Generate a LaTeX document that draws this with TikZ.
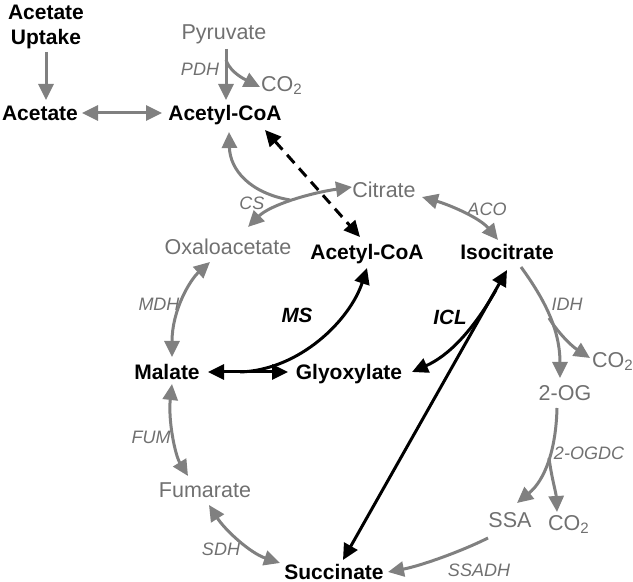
\documentclass[tikz,border=0pt]{standalone}
\usepackage{fontspec}
\setmainfont{Liberation Sans}
\usetikzlibrary{arrows.meta}
\definecolor{arrgray}{RGB}{128,128,128}
\definecolor{txtgray}{RGB}{112,112,112}
\begin{document}
\begin{tikzpicture}[x=0.5pt,y=-0.5pt,
 lab/.style={inner sep=0pt, text height=0.72em, text depth=0pt},
 met/.style={lab, font=\fontsize{10.5}{12.6}\selectfont\bfseries},
 gmet/.style={lab, text=txtgray, font=\fontsize{10.75}{13}\selectfont},
 enz/.style={lab, text=txtgray, font=\fontsize{9}{10}\selectfont\itshape},
 benz/.style={lab, font=\fontsize{10.3}{12}\selectfont\bfseries\itshape},
 Tr/.tip={Triangle[length=8pt,width=7.5pt]},
 garr/.style={draw=arrgray, line width=1.5pt},
 barr/.style={draw=black, line width=1.5pt},
]
\useasboundingbox (0,0) rectangle (633,582);

% metabolites
\node[inner sep=0pt, align=center, font=\fontsize{10.5}{12.6}\selectfont\bfseries] (uptake) at (46,27) {Acetate\\Uptake};
\node[met] (acetate) at (40,113) {Acetate};
\node[met] (acoa1) at (225,113) {Acetyl-CoA};
\node[gmet] (pyr) at (224,32) {Pyruvate};
\node[gmet] (co2a) at (282,84) {CO\textsubscript{2}};
\node[gmet] (citrate) at (384,190) {Citrate};
\node[gmet] (oaa) at (228,247) {Oxaloacetate};
\node[met] (acoa2) at (367,252) {Acetyl-CoA};
\node[met] (iso) at (507,252) {Isocitrate};
\node[gmet] (co2b) at (613,360) {CO\textsubscript{2}};
\node[gmet] (og) at (565,393) {2-OG};
\node[gmet] (ssa) at (510,520) {SSA};
\node[gmet] (co2c) at (569,523) {CO\textsubscript{2}};
\node[met] (succ) at (334,572) {Succinate};
\node[gmet] (fum) at (205,490) {Fumarate};
\node[met] (malate) at (167,372) {Malate};
\node[met] (glyox) at (349,372) {Glyoxylate};

% enzymes
\node[enz] (pdh) at (200,68) {PDH};
\node[enz] (cs) at (252,202) {CS};
\node[enz] (aco) at (487,208) {ACO};
\node[enz] (idh) at (567,303) {IDH};
\node[enz] (ogdc) at (589,452) {2-OGDC};
\node[enz] (ssadh) at (479,569) {SSADH};
\node[enz] (sdh) at (221,548) {SDH};
\node[enz] (fumE) at (151,436) {FUM};
\node[enz] (mdh) at (159,303) {MDH};
\node[benz] (ms) at (297,315) {MS};
\node[benz] (icl) at (450,317) {ICL};

% connector end points
\coordinate (up-s) at (46,52);
\coordinate (ac-n) at (46,100);
\coordinate (ac-e) at (82,113);
\coordinate (acoa1-w) at (162,113);
\coordinate (pyr-s) at (226,49);
\coordinate (acoa1-n) at (226,100);
\coordinate (pdh-j) at (226,60);
\coordinate (co2a-w) at (260,87);
\coordinate (csj) at (290,200);
\coordinate (acoa1-s) at (229,132);
\coordinate (oaa-n) at (248,227);
\coordinate (cit-w) at (352,187);
\coordinate (acoa1-se) at (265,130);
\coordinate (acoa2-n) at (360,237);
\coordinate (cit-e) at (422,197);
\coordinate (iso-n) at (498,240);
\coordinate (iso-se) at (521,267);
\coordinate (og-n) at (560,378);
\coordinate (idh-j) at (549,318);
\coordinate (co2b-w) at (590,358);
\coordinate (og-s) at (557,408);
\coordinate (ssa-n) at (517,503);
\coordinate (ogdc-j) at (549,458);
\coordinate (co2c-n) at (557,512);
\coordinate (ssa-sw) at (488,538);
\coordinate (succ-e) at (388,572);
\coordinate (iso-s) at (507,270);
\coordinate (succ-n) at (343,560);
\coordinate (icl-j) at (496,290);
\coordinate (glyox-e) at (412,372);
\coordinate (mal-e) at (208,372);
\coordinate (glyox-w) at (288,372);
\coordinate (ms-j) at (240,372);
\coordinate (acoa2-s) at (367,268);
\coordinate (oaa-s) at (210,262);
\coordinate (mal-n) at (172,357);
\coordinate (mal-s) at (172,384);
\coordinate (fum-n) at (188,476);
\coordinate (fum-se) at (209,505);
\coordinate (succ-w) at (280,563);

% grey connectors
\draw[garr,-Tr] (up-s) -- (ac-n);
\draw[garr,Tr-Tr] (ac-e) -- (acoa1-w);
\draw[garr,-Tr] (pyr-s) -- (acoa1-n);
\draw[garr,-Tr] (pdh-j) .. controls (229,69) and (238,76) .. (co2a-w);
\draw[garr,-Tr] (csj) .. controls (250,193) and (230,170) .. (acoa1-s);
\draw[garr,Tr-Tr] (oaa-n) .. controls (270,205) and (310,193) .. (cit-w);
\draw[garr,Tr-Tr] (cit-e) .. controls (450,205) and (480,218) .. (iso-n);
\draw[garr,-Tr] (iso-se) .. controls (545,300) and (560,330) .. (og-n);
\draw[garr,-Tr] (idh-j) .. controls (556,330) and (570,345) .. (co2b-w);
\draw[garr,-Tr] (og-s) .. controls (556,450) and (545,480) .. (ssa-n);
\draw[garr,-Tr] (ogdc-j) .. controls (552,480) and (556,492) .. (co2c-n);
\draw[garr,-Tr] (ssa-sw) .. controls (460,552) and (420,566) .. (succ-e);
\draw[garr,Tr-Tr] (oaa-s) .. controls (190,280) and (172,310) .. (mal-n);
\draw[garr,Tr-Tr] (mal-s) .. controls (168,420) and (175,455) .. (fum-n);
\draw[garr,Tr-Tr] (fum-se) .. controls (225,530) and (250,553) .. (succ-w);

% black connectors
\draw[barr,Tr-Tr,dash pattern=on 5.5pt off 3.5pt] (acoa1-se) -- (acoa2-n);
\draw[barr,Tr-Tr] (iso-s) -- (succ-n);
\draw[barr,-Tr] (icl-j) .. controls (472,332) and (448,356) .. (glyox-e);
\draw[barr,Tr-Tr] (mal-e) -- (glyox-w);
\draw[barr,-Tr] (ms-j) .. controls (300,370) and (350,320) .. (acoa2-s);
\end{tikzpicture}
\end{document}
